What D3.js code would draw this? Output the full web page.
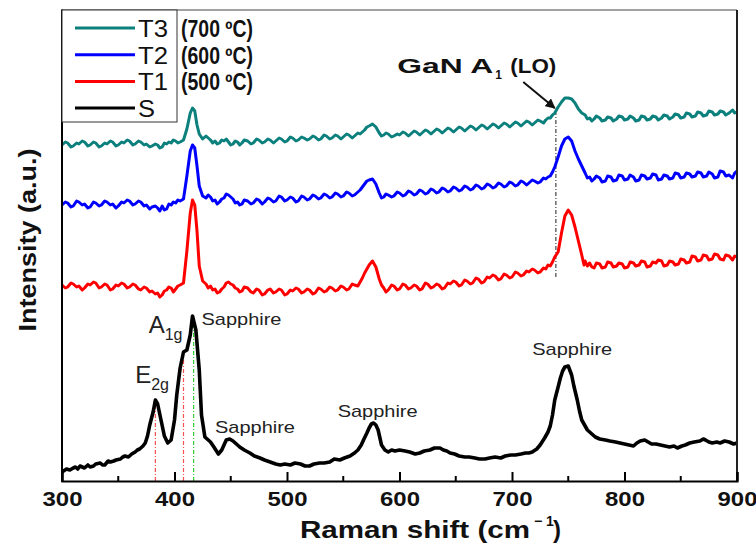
<!DOCTYPE html>
<html><head><meta charset="utf-8">
<script src="https://cdn.jsdelivr.net/npm/d3@7"></script>
<style>body{margin:0;background:#fff}svg{display:block}text{font-family:"Liberation Sans",Arial,sans-serif}</style>
</head><body><div id="c"></div>
<script>
// ---- data (Raman shift cm^-1, intensity a.u.) ----
const seriesNames = ["T3","T2","T1","S"];
const seriesTemps = ["(700 \u00BAC)","(600 \u00BAC)","(500 \u00BAC)",""];
const seriesColors = ["#0b807c","#0000ff","#ff0000","#000000"];
const xTicks = [300,400,500,600,700,800,900];

const T1 = [[300,196],[303,193],[305,194],[308,198],[310,197],[313,194],[315,195],[318,191],[320,193],[323,197],[325,196],[328,199],[330,198],[333,193],[335,194],[338,197],[340,196],[343,191],[345,192],[348,196],[350,195],[353,198],[355,197],[358,193],[360,194],[363,197],[365,196],[368,192],[370,191],[373,194],[375,193],[378,189],[380,190],[383,187],[385,188],[387,184],[389,186],[391,190],[393,191],[395,194],[397,193],[399,189],[401,192],[403,195],[405,196],[408,198],[411,230],[414,268],[416,281],[418,276],[420,250],[422,215],[425,200],[428,197],[430,193],[432,195],[434,191],[436,192],[438,188],[440,189],[442,192],[444,194],[446,198],[448,199],[450,197],[452,196],[454,193],[456,192],[458,189],[460,190],[462,194],[465,193],[468,189],[470,188],[473,192],[475,191],[478,186],[480,187],[483,191],[485,192],[488,188],[490,189],[493,192],[495,191],[498,186],[500,187],[503,191],[505,190],[508,193],[510,192],[513,188],[515,189],[518,192],[520,191],[523,187],[525,188],[528,193],[530,192],[533,189],[535,190],[538,194],[540,193],[543,190],[545,191],[548,195],[550,194],[553,191],[555,192],[558,197],[560,196],[563,195],[565,199],[567,203],[569,208],[571,212],[573,216],[576,220],[579,214],[582,202],[584,196],[586,193],[588,189],[590,191],[593,196],[595,195],[598,191],[600,192],[603,197],[605,196],[608,192],[610,193],[613,196],[615,195],[618,191],[620,192],[623,198],[625,197],[628,193],[630,194],[633,197],[635,196],[638,192],[640,193],[643,198],[645,197],[648,200],[650,199],[653,195],[655,196],[658,201],[660,200],[663,197],[665,198],[668,203],[670,202],[673,198],[675,199],[678,204],[680,203],[683,206],[685,205],[688,201],[690,202],[693,207],[695,206],[698,203],[700,204],[703,209],[705,208],[708,205],[710,206],[713,210],[715,209],[718,212],[720,211],[723,208],[725,209],[728,213],[730,212],[732,216],[734,215],[736,219],[738,224],[741,229],[744,248],[747,265],[750,271],[753,266],[756,254],[759,240],[762,226],[764,216],[765,220],[767,215],[769,218],[771,214],[773,213],[775,218],[778,217],[780,213],[783,214],[785,219],[788,218],[790,214],[793,215],[795,218],[798,217],[800,213],[803,214],[805,219],[808,218],[810,215],[813,216],[815,220],[818,219],[820,214],[823,215],[825,219],[828,218],[830,221],[833,220],[835,215],[838,216],[840,220],[843,219],[845,216],[848,217],[850,222],[853,221],[855,218],[858,219],[860,225],[863,224],[865,220],[868,221],[870,226],[873,225],[875,221],[878,222],[880,227],[883,226],[885,222],[888,221],[890,226],[893,225],[896,221],[898,225],[900,224]];

const T2 = [[300,276],[303,279],[305,278],[308,274],[310,275],[313,280],[315,279],[318,276],[320,277],[323,273],[325,274],[328,279],[330,278],[333,275],[335,276],[338,280],[340,279],[343,276],[345,277],[348,273],[350,275],[353,279],[355,278],[358,281],[360,280],[363,276],[365,277],[368,280],[370,279],[373,275],[375,276],[378,272],[380,274],[383,275],[385,273],[387,270],[389,275],[391,271],[393,272],[395,277],[397,276],[399,279],[401,278],[403,281],[405,280],[408,282],[411,305],[414,330],[416,336],[418,333],[420,315],[422,295],[425,285],[428,283],[430,286],[432,284],[434,280],[436,281],[438,277],[440,279],[442,282],[444,283],[446,287],[448,286],[450,284],[452,282],[454,278],[456,279],[458,276],[460,277],[462,281],[465,280],[468,277],[470,278],[473,282],[475,281],[478,277],[480,279],[483,283],[485,282],[488,279],[490,280],[493,285],[495,284],[498,280],[500,281],[503,284],[505,283],[508,279],[510,280],[513,285],[515,284],[518,281],[520,282],[523,286],[525,285],[528,282],[530,283],[533,287],[535,286],[538,283],[540,284],[543,288],[545,287],[548,284],[550,285],[553,289],[555,288],[558,285],[560,286],[563,289],[565,291],[567,294],[569,297],[571,300],[573,301],[576,302],[579,297],[582,288],[584,283],[586,284],[588,287],[590,286],[593,284],[595,285],[598,289],[600,288],[603,285],[605,286],[608,290],[610,289],[613,286],[615,287],[618,291],[620,290],[623,287],[625,288],[628,292],[630,291],[633,288],[635,289],[638,293],[640,292],[643,289],[645,290],[648,294],[650,293],[653,290],[655,291],[658,295],[660,294],[663,291],[665,292],[668,296],[670,295],[673,292],[675,293],[678,297],[680,296],[683,293],[685,294],[688,298],[690,297],[693,294],[695,295],[698,299],[700,298],[703,295],[705,296],[708,300],[710,299],[713,296],[715,298],[718,301],[720,300],[723,298],[725,299],[728,303],[730,302],[732,304],[734,305],[736,309],[738,314],[741,324],[744,335],[747,342],[750,344],[753,340],[756,330],[759,322],[762,315],[765,308],[767,303],[769,304],[771,300],[773,302],[775,305],[778,303],[780,299],[783,300],[785,305],[788,304],[790,300],[793,301],[795,306],[798,305],[800,301],[803,302],[805,306],[808,304],[810,300],[813,301],[815,306],[818,305],[820,302],[823,303],[825,307],[828,306],[830,301],[833,302],[835,306],[838,305],[840,302],[843,303],[845,308],[848,307],[850,303],[853,304],[855,308],[858,307],[860,304],[863,305],[865,309],[868,308],[870,304],[873,305],[875,309],[878,307],[880,303],[883,304],[885,310],[888,309],[890,305],[893,306],[896,303],[898,308],[900,310]];

const T3 = [[300,336],[303,339],[305,338],[308,334],[310,335],[313,338],[315,337],[318,340],[320,339],[323,335],[325,336],[328,339],[330,338],[333,334],[335,335],[338,338],[340,337],[343,340],[345,339],[348,335],[350,336],[353,339],[355,338],[358,341],[360,340],[363,336],[365,337],[368,340],[370,339],[373,336],[375,337],[378,334],[380,335],[383,337],[385,336],[387,333],[389,334],[391,338],[393,337],[395,339],[397,338],[399,341],[401,340],[403,338],[405,339],[408,341],[411,352],[414,368],[416,373],[418,370],[420,356],[422,347],[425,342],[428,345],[430,343],[432,341],[434,338],[436,340],[438,337],[440,338],[442,341],[444,340],[446,342],[448,339],[450,336],[452,337],[454,340],[456,339],[458,336],[460,338],[462,341],[465,340],[468,337],[470,338],[473,342],[475,341],[478,338],[480,339],[483,342],[485,341],[488,338],[490,340],[493,343],[495,342],[498,339],[500,340],[503,344],[505,343],[508,340],[510,341],[513,344],[515,343],[518,341],[520,342],[523,345],[525,344],[528,341],[530,342],[533,346],[535,345],[538,342],[540,343],[543,346],[545,345],[548,342],[550,344],[553,347],[555,346],[558,343],[560,345],[563,348],[565,347],[567,349],[569,351],[571,354],[573,355],[576,357],[579,354],[582,348],[584,345],[586,346],[588,348],[590,347],[593,344],[595,345],[598,347],[600,346],[603,349],[605,348],[608,345],[610,347],[613,350],[615,349],[618,346],[620,348],[623,351],[625,350],[628,347],[630,349],[633,352],[635,351],[638,348],[640,350],[643,353],[645,352],[648,349],[650,351],[653,354],[655,353],[658,350],[660,352],[663,355],[665,354],[668,351],[670,353],[673,356],[675,355],[678,352],[680,354],[683,357],[685,356],[688,353],[690,355],[693,358],[695,357],[698,354],[700,356],[703,359],[705,358],[708,355],[710,357],[713,360],[715,359],[718,356],[720,358],[723,361],[725,360],[728,358],[730,361],[732,363],[734,363],[736,366],[738,368],[741,374],[744,379],[747,383],[750,383],[753,382],[756,378],[759,372],[762,368],[765,366],[767,362],[769,363],[771,360],[773,362],[775,365],[778,363],[780,360],[783,361],[785,364],[788,363],[790,360],[793,362],[795,365],[798,364],[800,361],[803,362],[805,365],[808,363],[810,360],[813,361],[815,365],[818,364],[820,361],[823,362],[825,365],[828,364],[830,361],[833,363],[835,366],[838,365],[840,362],[843,364],[845,367],[848,366],[850,363],[853,364],[855,368],[858,367],[860,364],[863,365],[865,369],[868,368],[870,365],[873,366],[875,370],[878,369],[880,366],[883,367],[885,370],[888,369],[890,366],[893,368],[896,371],[898,368],[900,369]];

const S = [[300,9],[304,12],[307,11],[310,13],[312,14],[314,12],[316,15],[320,13],[323,16],[325,14],[328,15],[330,17],[334,18],[336,16],[338,16],[341,20],[343,19],[346,20],[348,21],[352,22],[354,24],[356,25],[359,24],[362,27],[365,29],[367,31],[369,32],[372,35],[374,38],[376,45],[378,56],[381,69],[383,81],[385,77],[388,61],[391,45],[394,38],[397,41],[400,61],[402,86],[405,113],[408,129],[411,131],[414,146],[416,165],[419,151],[422,111],[424,66],[427,44],[430,41],[432,39],[435,34],[439,27],[442,31],[446,41],[449,42],[452,40],[454,38],[458,34],[462,31],[467,28],[471,25],[476,23],[480,21],[485,19],[490,17],[494,16],[498,17],[503,16],[507,18],[512,17],[516,15],[520,15],[524,17],[529,18],[533,18],[538,19],[542,22],[547,21],[551,23],[556,25],[560,28],[563,31],[566,36],[568,41],[571,48],[573,53],[575,57],[577,58],[579,56],[581,51],[584,36],[587,31],[590,29],[593,31],[596,30],[600,31],[605,30],[609,29],[614,27],[618,28],[622,30],[627,31],[631,33],[636,33],[639,31],[642,30],[645,28],[649,27],[653,25],[658,24],[662,24],[667,23],[671,22],[676,22],[680,23],[685,24],[690,23],[694,25],[699,26],[703,26],[708,27],[712,28],[715,28],[718,29],[722,32],[725,36],[729,43],[732,49],[734,55],[736,66],[738,81],[741,94],[743,103],[745,110],[747,114],[750,115],[753,106],[755,95],[758,81],[760,70],[762,61],[765,55],[767,51],[771,47],[774,44],[778,42],[783,41],[787,40],[792,39],[796,38],[800,37],[804,36],[808,35],[811,38],[814,40],[818,41],[821,39],[824,37],[828,37],[832,36],[836,35],[840,34],[844,35],[847,33],[851,35],[854,36],[858,38],[862,39],[867,40],[870,42],[872,41],[875,39],[878,38],[882,39],[885,38],[889,40],[893,39],[897,37],[900,38]];

const seriesData = [T3, T2, T1, S];

// ---- layout ----
const W = 756, H = 546;
const m = {l:62, r:19, t:10, b:65};
const svg = d3.select("#c").append("svg").attr("width",W).attr("height",H);
const x = d3.scaleLinear().domain([300,900]).range([m.l, W-m.r]);
const y = d3.scaleLinear().domain([0,471]).range([H-m.b, m.t]);

// reference dash lines
const vlines = [
  {x:383, y0:0, y1:81, c:"#ff5050"},
  {x:408, y0:0, y1:126, c:"#ff5050"},
  {x:417, y0:0, y1:165, c:"#33cc33"},
  {x:739, y0:204, y1:368, c:"#444444"}
];
svg.selectAll("line.vl").data(vlines).enter().append("line")
  .attr("x1",d=>x(d.x)).attr("x2",d=>x(d.x)).attr("y1",d=>y(d.y0)).attr("y2",d=>y(d.y1))
  .attr("stroke",d=>d.c).attr("stroke-width",1.2).attr("stroke-dasharray","4,2,1,2");

// curves
const line = d3.line().x(d=>x(d[0])).y(d=>y(d[1]));
svg.selectAll("path.s").data(seriesData).enter().append("path")
  .attr("d",line).attr("fill","none")
  .attr("stroke",(d,i)=>seriesColors[i])
  .attr("stroke-width",(d,i)=>i===3?3.6:3)
  .attr("stroke-linejoin","round");

// axes frame
const X0=m.l, X1=W-m.r, Y0=H-m.b, Y1=m.t;
svg.append("line").attr("x1",X0).attr("x2",X1).attr("y1",Y1).attr("y2",Y1).attr("stroke","#444").attr("stroke-width",1);
svg.append("line").attr("x1",X1).attr("x2",X1).attr("y1",Y1).attr("y2",Y0).attr("stroke","#222").attr("stroke-width",2);
svg.append("line").attr("x1",X0).attr("x2",X0).attr("y1",Y1-0.5).attr("y2",Y0+1).attr("stroke","#000").attr("stroke-width",2);

const xAxis = d3.axisBottom(x).tickValues(xTicks).tickSize(-9).tickPadding(11).tickFormat(d3.format("d"));
const gx = svg.append("g").attr("transform",`translate(0,${Y0})`).call(xAxis);
gx.select(".domain").attr("stroke","#000").attr("stroke-width",2.2);
gx.selectAll(".tick line").attr("stroke","#000").attr("stroke-width",2);
gx.selectAll(".tick text").attr("font-size",20).attr("font-weight","bold").attr("fill","#111")
  .attr("textLength",40).attr("lengthAdjust","spacingAndGlyphs");
const minor = d3.range(350,900,100);
svg.selectAll("line.minor").data(minor).enter().append("line")
  .attr("x1",d=>x(d)).attr("x2",d=>x(d)).attr("y1",Y0).attr("y2",Y0-5)
  .attr("stroke","#000").attr("stroke-width",2);

// axis titles
svg.append("text").attr("x",300).attr("y",538)
  .attr("font-size",24).attr("font-weight","bold").attr("fill","#111")
  .attr("textLength",230).attr("lengthAdjust","spacingAndGlyphs").text("Raman shift (cm");
svg.append("text").attr("x",534).attr("y",526).attr("font-size",14).attr("font-weight","bold").attr("fill","#111")
  .text("\u2212 1");
svg.append("text").attr("x",553).attr("y",538).attr("font-size",24).attr("font-weight","bold").attr("fill","#111")
  .text(")");
svg.append("text").attr("transform","translate(36,240) rotate(-90)").attr("text-anchor","middle")
  .attr("font-size",24).attr("font-weight","bold").attr("fill","#111")
  .attr("textLength",183).attr("lengthAdjust","spacingAndGlyphs")
  .text("Intensity (a.u.)");

// legend
svg.append("rect").attr("x",X0).attr("y",Y1).attr("width",115).attr("height",112)
  .attr("fill","#fff").attr("stroke","#333").attr("stroke-width",1);
const lg = svg.selectAll("g.lg").data(seriesNames).enter().append("g")
  .attr("transform",(d,i)=>`translate(0,${28+i*26.7})`);
lg.append("line").attr("x1",75).attr("x2",135).attr("stroke",(d,i)=>seriesColors[i]).attr("stroke-width",3);
lg.append("text").attr("x",138).attr("y",9).attr("font-size",24).attr("fill","#111")
  .attr("textLength",d=>d.length===1?17:30).attr("lengthAdjust","spacingAndGlyphs").text(d=>d);
lg.append("text").attr("x",181).attr("y",9).attr("font-size",23).attr("font-weight","bold").attr("fill","#111")
  .attr("textLength",(d,i)=>seriesTemps[i]?72:0).attr("lengthAdjust","spacingAndGlyphs")
  .text((d,i)=>seriesTemps[i]);

// annotations
const sapph = [[424,156],[436,48],[545,64],[718,126]];
svg.selectAll("text.sp").data(sapph).enter().append("text")
  .attr("x",d=>x(d[0])).attr("y",d=>y(d[1])).attr("font-size",17).attr("fill","#222")
  .attr("textLength",80).attr("lengthAdjust","spacingAndGlyphs").text("Sapphire");
svg.append("text").attr("x",x(365)).attr("y",y(98)).attr("font-size",24).attr("fill","#222")
  .html('E<tspan dy="7" font-size="16">2g</tspan>');
svg.append("text").attr("x",x(377)).attr("y",y(148)).attr("font-size",24).attr("fill","#222")
  .html('A<tspan dy="7" font-size="16">1g</tspan>');
svg.append("text").attr("x",x(598)).attr("y",y(408)).attr("font-size",20).attr("font-weight","bold").attr("fill","#111")
  .attr("textLength",96).attr("lengthAdjust","spacingAndGlyphs").text("GaN A");
svg.append("text").attr("x",x(598)+98).attr("y",y(408)+6).attr("font-size",12).attr("font-weight","bold").attr("fill","#111").text("1");
svg.append("text").attr("x",x(598)+113).attr("y",y(408)).attr("font-size",20).attr("font-weight","bold").attr("fill","#111")
  .attr("textLength",46).attr("lengthAdjust","spacingAndGlyphs").text("(LO)");

// arrow
svg.append("defs").append("marker").attr("id","ah").attr("viewBox","0 0 10 10")
  .attr("refX",9).attr("refY",5).attr("markerWidth",5).attr("markerHeight",5).attr("orient","auto")
  .append("path").attr("d","M0,0L10,5L0,10z").attr("fill","#111");
svg.append("line").attr("x1",x(710)).attr("y1",y(399)).attr("x2",x(738)).attr("y2",y(373))
  .attr("stroke","#111").attr("stroke-width",2).attr("marker-end","url(#ah)");
</script></body></html>
